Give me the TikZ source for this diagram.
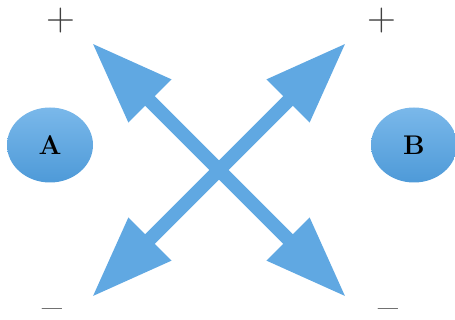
\documentclass[tikz,border=0pt]{standalone}
\usetikzlibrary{arrows.meta,shapes.geometric}
\definecolor{arrowblue}{RGB}{96,168,226}
\definecolor{ellTop}{RGB}{122,184,234}
\definecolor{ellBot}{RGB}{78,154,216}
\tikzset{
  blob/.style={ellipse, minimum width=86pt, minimum height=75pt, inner sep=0pt,
    top color=ellTop, bottom color=ellBot, draw=none,
    font=\fontsize{27}{27}\selectfont\bfseries},
  sign/.style={inner sep=0pt, font=\fontsize{40}{40}\selectfont, text=black!75},
  minussign/.style={inner sep=0pt, anchor=base, font=\fontsize{24}{24}\selectfont\bfseries, text=black!70},
  bigarrow/.style={draw=arrowblue, line width=13.5pt,
    {Triangle[length=82pt,width=57pt,sep=0pt]}-{Triangle[length=82pt,width=57pt,sep=0pt]}},
}
\begin{document}
\begin{tikzpicture}[x=1pt,y=-1pt]
\useasboundingbox (0,0) rectangle (455,320);
\node[blob] (A) at (50,145) {A};
\node[blob] (B) at (414,145) {B};
\node[sign] (p1) at (61,21) {+};
\node[sign] (p2) at (382,21) {+};
\node[minussign] (m1) at (52,316) {\scalebox{1.5}[1]{–}};
\node[minussign] (m2) at (388,316) {\scalebox{1.5}[1]{–}};
\coordinate (tl) at (92,43);
\coordinate (tr) at (346,43);
\coordinate (bl) at (92,297);
\coordinate (br) at (346,297);
\draw[bigarrow] (tl) -- (br);
\draw[bigarrow] (bl) -- (tr);
\end{tikzpicture}
\end{document}
